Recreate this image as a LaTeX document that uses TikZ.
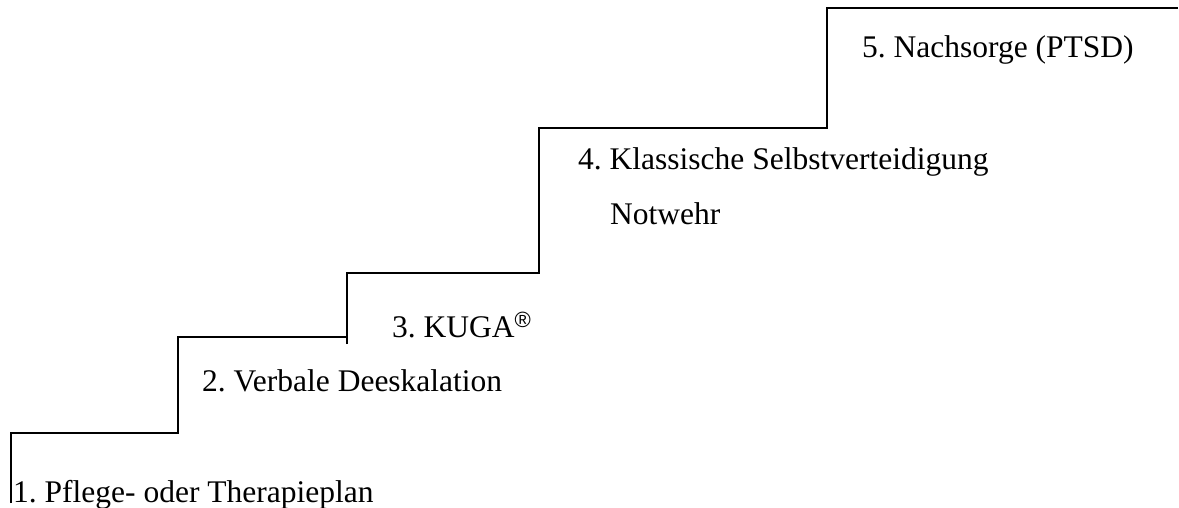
\documentclass[tikz,border=0pt]{standalone}
\usepackage{fontspec}
\setmainfont{Liberation Serif}
\newfontfamily\regsans{Liberation Sans}
\frenchspacing
\begin{document}
\begin{tikzpicture}[x=1pt,y=-1pt,
  stair/.style={line width=1.8pt, line join=miter},
  lbl/.style={anchor=base west, inner sep=0pt, font=\fontsize{31.5}{38}\selectfont}]
\useasboundingbox (0,0) rectangle (1179,508);
% stairs
\coordinate (s0) at (11,503);
\coordinate (s1) at (11,433);
\coordinate (s2) at (178,433);
\coordinate (s3) at (178,337);
\coordinate (s4) at (347,337);
\coordinate (t0) at (347,344);
\coordinate (t1) at (347,273);
\coordinate (t2) at (539,273);
\coordinate (t3) at (539,128);
\coordinate (t4) at (827,128);
\coordinate (t5) at (827,8);
\coordinate (t6) at (1178,8);
\draw[stair] (s0) -- (s1) -- (s2) -- (s3) -- (s4);
\draw[stair] (t0) -- (t1) -- (t2) -- (t3) -- (t4) -- (t5) -- (t6);
% labels
\node[lbl] (l1) at (13,502) {1. Pflege- oder Therapieplan};
\node[lbl] (l2) at (202,391) {2. Verbale Deeskalation};
\node[lbl] (l3) at (392,337) {3. KUGA\textsuperscript{\regsans ®}};
\node[lbl] (l4) at (578,170) {4. Klassische Selbstverteidigung};
\node[lbl] (l4b) at (610,225) {Notwehr};
\node[lbl] (l5) at (862,58) {5. Nachsorge (PTSD)};
\end{tikzpicture}
\end{document}
